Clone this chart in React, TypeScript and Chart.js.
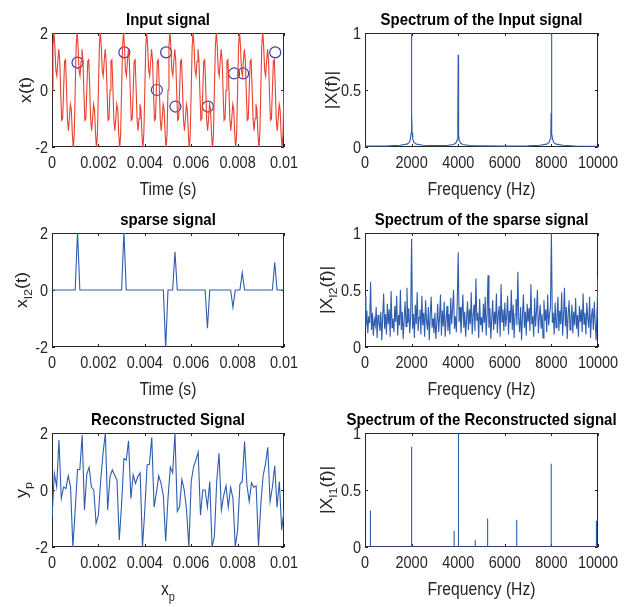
import React, { useEffect, useRef } from 'react';
import { Chart, registerables } from 'chart.js';
Chart.register(...registerables);

// ---------- tick values / labels ----------
const timeTicks = [0, 0.002, 0.004, 0.006, 0.008, 0.01];
const timeTickLabels = ['0', '0.002', '0.004', '0.006', '0.008', '0.01'];
const ampTicks = [-2, 0, 2];
const ampTickLabels = ['-2', '0', '2'];
const freqTicks = [0, 2000, 4000, 6000, 8000, 10000];
const freqTickLabels = ['0', '2000', '4000', '6000', '8000', '10000'];
const magTicks = [0, 0.5, 1];
const magTickLabels = ['0', '0.5', '1'];

// ---------- input signal (0..0.01 s, 241 samples) ----------
const inputDuration = 0.01;
const inputSignal = [
  0, 1.53, 2.06, 1.51, 0.69, 0.5, 1.0, 1.43, 1.04, -0.09, -1.06, -1.01, 0, 1.01, 1.06, 0.09, -1.04, -1.43, -1.0, -0.5, -0.69, -1.51, -2.06, -1.53,
  0, 1.53, 2.06, 1.51, 0.69, 0.5, 1.0, 1.43, 1.04, -0.09, -1.06, -1.01, 0, 1.01, 1.06, 0.09, -1.04, -1.43, -1.0, -0.5, -0.69, -1.51, -2.06, -1.53,
  0, 1.53, 2.06, 1.51, 0.69, 0.5, 1.0, 1.43, 1.04, -0.09, -1.06, -1.01, 0, 1.01, 1.06, 0.09, -1.04, -1.43, -1.0, -0.5, -0.69, -1.51, -2.06, -1.53,
  0, 1.53, 2.06, 1.51, 0.69, 0.5, 1.0, 1.43, 1.04, -0.09, -1.06, -1.01, 0, 1.01, 1.06, 0.09, -1.04, -1.43, -1.0, -0.5, -0.69, -1.51, -2.06, -1.53,
  0, 1.53, 2.06, 1.51, 0.69, 0.5, 1.0, 1.43, 1.04, -0.09, -1.06, -1.01, 0, 1.01, 1.06, 0.09, -1.04, -1.43, -1.0, -0.5, -0.69, -1.51, -2.06, -1.53,
  0, 1.53, 2.06, 1.51, 0.69, 0.5, 1.0, 1.43, 1.04, -0.09, -1.06, -1.01, 0, 1.01, 1.06, 0.09, -1.04, -1.43, -1.0, -0.5, -0.69, -1.51, -2.06, -1.53,
  0, 1.53, 2.06, 1.51, 0.69, 0.5, 1.0, 1.43, 1.04, -0.09, -1.06, -1.01, 0, 1.01, 1.06, 0.09, -1.04, -1.43, -1.0, -0.5, -0.69, -1.51, -2.06, -1.53,
  0, 1.53, 2.06, 1.51, 0.69, 0.5, 1.0, 1.43, 1.04, -0.09, -1.06, -1.01, 0, 1.01, 1.06, 0.09, -1.04, -1.43, -1.0, -0.5, -0.69, -1.51, -2.06, -1.53,
  0, 1.53, 2.06, 1.51, 0.69, 0.5, 1.0, 1.43, 1.04, -0.09, -1.06, -1.01, 0, 1.01, 1.06, 0.09, -1.04, -1.43, -1.0, -0.5, -0.69, -1.51, -2.06, -1.53,
  0, 1.53, 2.06, 1.51, 0.69, 0.5, 1.0, 1.43, 1.04, -0.09, -1.06, -1.01, 0, 1.01, 1.06, 0.09, -1.04, -1.43, -1.0, -0.5, -0.69, -1.51, -2.06, -1.53,
  0,
];

// random sample points (circles)
const sampleTimes = [0.0011, 0.00312, 0.00452, 0.00492, 0.00532, 0.00672, 0.00785, 0.00824, 0.00962];
const sampleValues = [0.96, 1.32, 0, 1.32, -0.58, -0.58, 0.58, 0.58, 1.32];

// ---------- sparse signal (dt = 0.0001 s, 101 samples) ----------
const sparseStep = 0.0001;
const sparseSignal = [
  0, 0, 0, 0, 0, 0, 0, 0, 0, 0,
  0, 2.05, 0, 0, 0, 0, 0, 0, 0, 0,
  0, 0, 0, 0, 0, 0, 0, 0, 0, 0,
  0, 2.05, 0, 0, 0, 0, 0, 0, 0, 0,
  0, 0, 0, 0, 0, 0, 0, 0, 0, -2.05,
  0, 0, 0, 1.34, 0, 0, 0, 0, 0, 0,
  0, 0, 0, 0, 0, 0, 0, -1.34, 0, 0,
  0, 0, 0, 0, 0, 0, 0, 0, -0.61, 0,
  0, 0, 0.61, 0, 0, 0, 0, 0, 0, 0,
  0, 0, 0, 0, 0, 0, 0.97, 0, 0, 0,
  0,
];

// ---------- reconstructed signal (dt = 0.0001 s, 101 samples) ----------
const reconstructedSignal = [
  -1.0, 0.58, 0.12, 1.75, -0.3, 0.1, 0.05, 0.5, 0.1, -2.0,
  -0.7, 0.72, 0.72, 1.93, -0.7, 0.55, 0.8, 0.1, 0.0, -1.17,
  -0.88, 0.35, 1.29, 2.0, -0.7, 0.47, 0.7, 0.53, 0.35, -1.75,
  -0.5, 1.1, 1.05, 1.73, -0.3, 0.53, 0.23, 0.47, 0.6, -2.0,
  -0.7, 0.88, 0.9, 1.85, -0.6, -0.1, 0.5, 0.23, -0.2, -1.8,
  -0.3, 0.8, 0.6, 2.0, -0.75, -0.58, 0.37, 0.0, -0.7, -2.0,
  0.3, 0.8, 1.05, 1.33, -0.88, 0.0, 0.0, -0.6, 0.3, -2.0,
  -1.63, 0.3, 1.29, -0.7, -0.2, 0.15, -0.6, 0.1, -0.3, -2.0,
  -1.4, 0.2, 0.3, 1.7, 0.2, -0.4, 0.25, 0.1, 0.15, -2.0,
  -0.5, 0.5, 0.9, 1.5, -0.4, 0.1, 0.85, -0.6, 0.3, -1.4,
  -0.7,
];

// ---------- input spectrum ----------
const inputSpecFreq = [0, 500, 1000, 1500, 1800, 1900, 1950, 1975, 1990, 2000, 2010, 2025, 2050, 2100, 2200, 2500, 3000, 3500, 3800, 3900, 3950, 3975, 3990, 4000, 4010, 4025, 4050, 4100, 4200, 4500, 5000, 6000, 7000, 7500, 7800, 7900, 7950, 7975, 7990, 8000, 8010, 8025, 8050, 8100, 8200, 8500, 9000, 10000];
const inputSpecMag = [0.008, 0.009, 0.01, 0.015, 0.025, 0.04, 0.07, 0.12, 0.3, 1.0, 0.3, 0.12, 0.07, 0.04, 0.025, 0.015, 0.012, 0.013, 0.022, 0.035, 0.06, 0.1, 0.25, 0.81, 0.25, 0.1, 0.06, 0.035, 0.022, 0.013, 0.01, 0.008, 0.01, 0.015, 0.025, 0.04, 0.07, 0.12, 0.3, 1.0, 0.3, 0.12, 0.07, 0.04, 0.025, 0.015, 0.009, 0.006];

// ---------- sparse spectrum (0..10000 Hz, step 40 Hz) ----------
const sparseSpecStep = 40;
const sparseSpecMag = [
  0.45, 0.18, 0.32, 0.12, 0.27, 0.21, 0.57, 0.15, 0.30, 0.10, 0.24, 0.19, 0.35, 0.08, 0.28, 0.22, 0.14, 0.31, 0.06, 0.26, 0.47, 0.16, 0.29, 0.11, 0.38,
  0.20, 0.33, 0.09, 0.49, 0.17, 0.25, 0.13, 0.36, 0.22, 0.45, 0.10, 0.28, 0.19, 0.50, 0.15, 0.31, 0.07, 0.24, 0.40, 0.18, 0.52, 0.21, 0.34, 0.12, 0.27,
  0.95, 0.16, 0.29, 0.08, 0.37, 0.20, 0.48, 0.14, 0.26, 0.33, 0.11, 0.45, 0.19, 0.30, 0.09, 0.41, 0.23, 0.15, 0.35, 0.06, 0.28, 0.44, 0.17, 0.25, 0.12,
  0.30, 0.07, 0.21, 0.38, 0.13, 0.26, 0.46, 0.10, 0.32, 0.18, 0.40, 0.09, 0.24, 0.36, 0.14, 0.29, 0.11, 0.43, 0.20, 0.34, 0.50, 0.16, 0.27, 0.13, 0.39,
  0.83, 0.22, 0.35, 0.12, 0.28, 0.46, 0.17, 0.31, 0.09, 0.25, 0.40, 0.15, 0.33, 0.20, 0.48, 0.11, 0.27, 0.37, 0.14, 0.60, 0.23, 0.30, 0.08, 0.42, 0.19,
  0.26, 0.13, 0.38, 0.21, 0.44, 0.10, 0.29, 0.63, 0.17, 0.34, 0.07, 0.25, 0.41, 0.15, 0.31, 0.20, 0.47, 0.12, 0.28, 0.36, 0.09, 0.55, 0.22, 0.33, 0.14,
  0.39, 0.18, 0.27, 0.45, 0.11, 0.32, 0.21, 0.50, 0.15, 0.37, 0.08, 0.29, 0.42, 0.19, 0.66, 0.24, 0.13, 0.35, 0.06, 0.28, 0.46, 0.17, 0.31, 0.10, 0.38,
  0.22, 0.34, 0.14, 0.55, 0.20, 0.27, 0.09, 0.43, 0.18, 0.31, 0.50, 0.12, 0.26, 0.37, 0.16, 0.29, 0.08, 0.41, 0.23, 0.33, 0.13, 0.46, 0.19, 0.28, 0.35,
  1.0, 0.21, 0.30, 0.11, 0.39, 0.17, 0.26, 0.44, 0.14, 0.32, 0.20, 0.48, 0.10, 0.27, 0.52, 0.18, 0.35, 0.07, 0.29, 0.41, 0.15, 0.24, 0.37, 0.12, 0.31,
  0.19, 0.43, 0.16, 0.28, 0.09, 0.36, 0.22, 0.33, 0.13, 0.47, 0.20, 0.30, 0.11, 0.39, 0.25, 0.17, 0.44, 0.08, 0.27, 0.34, 0.15, 0.40, 0.21, 0.06, 0.32, 0.61,
];

// ---------- reconstructed spectrum (spikes) ----------
const recSpikeFreq = [230, 2000, 3825, 4010, 4730, 5260, 6510, 7990, 9930];
const recSpikeMag = [0.32, 0.88, 0.14, 1.0, 0.06, 0.25, 0.24, 0.73, 0.23];

// ---------- styling ----------
const FONT = '"Liberation Sans", Arial, Helvetica, sans-serif';
const RED = '#e9402f';
const BLUE = '#2f5db0';
const CIRCLE = '#3c3ca6';
const AXIS = '#262626';

type Seg = { t: string; sub?: boolean };

function segWidth(ctx: CanvasRenderingContext2D, segs: Seg[], size: number, weight: string) {
  let w = 0;
  for (const s of segs) {
    const fs = s.sub ? size * 0.7 : size;
    ctx.font = `${weight} ${fs}px ${FONT}`;
    w += ctx.measureText(s.t).width;
  }
  return w;
}

function drawSegs(ctx: CanvasRenderingContext2D, segs: Seg[], size: number, weight: string, color: string) {
  let x = 0;
  ctx.fillStyle = color;
  ctx.textAlign = 'left';
  ctx.textBaseline = 'alphabetic';
  for (const s of segs) {
    const fs = s.sub ? size * 0.7 : size;
    ctx.font = `${weight} ${fs}px ${FONT}`;
    ctx.fillText(s.t, x, s.sub ? size * 0.32 : 0);
    x += ctx.measureText(s.t).width;
  }
}

// horizontal text, squeezed horizontally by sx
function hText(ctx: CanvasRenderingContext2D, segs: Seg[], x: number, y: number, size: number, weight: string, align: string, sx: number, color: string) {
  const w = segWidth(ctx, segs, size, weight) * sx;
  const x0 = align === 'center' ? x - w / 2 : align === 'right' ? x - w : x;
  ctx.save();
  ctx.translate(x0, y);
  ctx.scale(sx, 1);
  drawSegs(ctx, segs, size, weight, color);
  ctx.restore();
}

function vText(ctx: CanvasRenderingContext2D, segs: Seg[], x: number, y: number, size: number, weight: string, sx: number, color: string) {
  const w = segWidth(ctx, segs, size, weight);
  ctx.save();
  ctx.translate(x, y);
  ctx.rotate(-Math.PI / 2);
  ctx.scale(1, sx);
  ctx.translate(-w / 2, 0);
  drawSegs(ctx, segs, size, weight, color);
  ctx.restore();
}

type PanelSpec = {
  left: number; top: number; w: number; h: number;
  plotLeft: number;
  title: string;
  xLabel: Seg[]; yLabel: Seg[]; yLabelGap: number;
  xMin: number; xMax: number; yMin: number; yMax: number;
  xTicks: number[]; xTickLabels: string[];
  yTicks: number[]; yTickLabels: string[];
  datasets: any[];
};

function Panel({ spec }: { spec: PanelSpec }) {
  const ref = useRef<HTMLCanvasElement | null>(null);
  useEffect(() => {
    const frame = {
      id: 'matlabFrame',
      beforeDatasetsDraw(chart: any) {
        const { ctx, chartArea: a, scales } = chart;
        ctx.save();
        ctx.strokeStyle = AXIS;
        ctx.lineWidth = 1;
        ctx.strokeRect(a.left + 0.5, a.top + 0.5, a.right - a.left - 1, a.bottom - a.top - 1);
        ctx.beginPath();
        const tl = 3;
        for (const t of scales.x.ticks) {
          const px = Math.round(scales.x.getPixelForValue(t.value)) + 0.5;
          ctx.moveTo(px, a.bottom); ctx.lineTo(px, a.bottom - tl);
          ctx.moveTo(px, a.top); ctx.lineTo(px, a.top + tl);
        }
        for (const t of scales.y.ticks) {
          const py = Math.round(scales.y.getPixelForValue(t.value)) + 0.5;
          ctx.moveTo(a.left, py); ctx.lineTo(a.left + tl, py);
          ctx.moveTo(a.right, py); ctx.lineTo(a.right - tl, py);
        }
        ctx.stroke();
        ctx.restore();
      },
      afterDraw(chart: any) {
        const { ctx, chartArea: a, scales } = chart;
        const cx = (a.left + a.right) / 2;
        const cy = (a.top + a.bottom) / 2;
        // title
        hText(ctx, [{ t: spec.title }], cx, a.top - 8, 17, 'bold', 'center', 0.88, '#000');
        // tick labels
        scales.x.ticks.forEach((t: any, i: number) => {
          const px = scales.x.getPixelForValue(t.value);
          hText(ctx, [{ t: spec.xTickLabels[i] }], px, a.bottom + 21, 17, 'normal', 'center', 0.85, AXIS);
        });
        scales.y.ticks.forEach((t: any, i: number) => {
          const py = scales.y.getPixelForValue(t.value);
          hText(ctx, [{ t: spec.yTickLabels[i] }], a.left - 4, py + 6, 17, 'normal', 'right', 0.85, AXIS);
        });
        // axis labels
        hText(ctx, spec.xLabel, cx, a.bottom + 48, 18, 'normal', 'center', 0.87, AXIS);
        vText(ctx, spec.yLabel, a.left - spec.yLabelGap, cy, 18, 'normal', 0.87, AXIS);
      },
    };
    const chart = new Chart(ref.current as HTMLCanvasElement, {
      type: 'line',
      data: { datasets: spec.datasets },
      options: {
        animation: false,
        responsive: false,
        devicePixelRatio: 1,
        events: [],
        layout: { padding: { top: 33, right: 30, left: 0, bottom: 0 } },
        plugins: { legend: { display: false }, tooltip: { enabled: false }, title: { display: false } },
        elements: { point: { radius: 0 }, line: { tension: 0 } },
        scales: {
          x: {
            type: 'linear', min: spec.xMin, max: spec.xMax,
            ticks: { display: false }, grid: { display: false }, border: { display: false },
            afterBuildTicks: (s: any) => { s.ticks = spec.xTicks.map((v) => ({ value: v })); },
            afterFit: (s: any) => { s.height = spec.h - 147; },
          },
          y: {
            type: 'linear', min: spec.yMin, max: spec.yMax,
            ticks: { display: false }, grid: { display: false }, border: { display: false },
            afterBuildTicks: (s: any) => { s.ticks = spec.yTicks.map((v) => ({ value: v })); },
            afterFit: (s: any) => { s.width = spec.plotLeft; },
          },
        },
      } as any,
      plugins: [frame],
    });
    return () => chart.destroy();
  }, []);
  return (
    <canvas
      ref={ref}
      width={spec.w}
      height={spec.h}
      style={{ position: 'absolute', left: spec.left, top: spec.top, width: spec.w, height: spec.h }}
    />
  );
}

function lineSet(points: { x: number; y: number }[], color: string) {
  return { data: points, borderColor: color, borderWidth: 1.1, pointRadius: 0, fill: false, tension: 0 };
}

export default function App() {
  const inputPts = inputSignal.map((v, i) => ({ x: (i * inputDuration) / (inputSignal.length - 1), y: v }));
  const samplePts = sampleTimes.map((t, i) => ({ x: t, y: sampleValues[i] }));
  const sparsePts = sparseSignal.map((v, i) => ({ x: i * sparseStep, y: v }));
  const recPts = reconstructedSignal.map((v, i) => ({ x: i * sparseStep, y: v }));
  const inSpecPts = inputSpecFreq.map((f, i) => ({ x: f, y: inputSpecMag[i] }));
  const spSpecPts = sparseSpecMag.map((v, i) => ({ x: i * sparseSpecStep, y: v }));
  const recSpecPts: { x: number; y: number }[] = [{ x: 0, y: 0 }];
  recSpikeFreq.forEach((f, i) => {
    recSpecPts.push({ x: f - 4, y: 0 }, { x: f, y: recSpikeMag[i] }, { x: f + 4, y: 0 });
  });
  recSpecPts.push({ x: 10000, y: 0 });

  const timeAxes = { xMin: 0, xMax: 0.01, yMin: -2, yMax: 2, xTicks: timeTicks, xTickLabels: timeTickLabels, yTicks: ampTicks, yTickLabels: ampTickLabels };
  const freqAxes = { xMin: 0, xMax: 10000, yMin: 0, yMax: 1, xTicks: freqTicks, xTickLabels: freqTickLabels, yTicks: magTicks, yTickLabels: magTickLabels };

  const panels: PanelSpec[] = [
    {
      left: 0, top: 0, w: 314, h: 200, plotLeft: 52, title: 'Input signal',
      xLabel: [{ t: 'Time (s)' }], yLabel: [{ t: 'x(t)' }], yLabelGap: 21, ...timeAxes,
      datasets: [
        lineSet(inputPts, RED),
        { data: samplePts, showLine: false, pointRadius: 5.5, pointStyle: 'circle', borderColor: CIRCLE, borderWidth: 1.2, backgroundColor: 'rgba(0,0,0,0)' },
      ],
    },
    {
      left: 314, top: 0, w: 314, h: 200, plotLeft: 51, title: 'Spectrum of the Input signal',
      xLabel: [{ t: 'Frequency (Hz)' }], yLabel: [{ t: '|X(f)|' }], yLabelGap: 28, ...freqAxes,
      datasets: [lineSet(inSpecPts, BLUE)],
    },
    {
      left: 0, top: 200, w: 314, h: 200, plotLeft: 52, title: 'sparse signal',
      xLabel: [{ t: 'Time (s)' }], yLabel: [{ t: 'x' }, { t: 'l2', sub: true }, { t: '(t)' }], yLabelGap: 25, ...timeAxes,
      datasets: [lineSet(sparsePts, BLUE)],
    },
    {
      left: 314, top: 200, w: 314, h: 200, plotLeft: 51, title: 'Spectrum of the sparse signal',
      xLabel: [{ t: 'Frequency (Hz)' }], yLabel: [{ t: '|X' }, { t: 'l2', sub: true }, { t: '(f)|' }], yLabelGap: 33, ...freqAxes,
      datasets: [lineSet(spSpecPts, BLUE)],
    },
    {
      left: 0, top: 400, w: 314, h: 207, plotLeft: 52, title: 'Reconstructed Signal',
      xLabel: [{ t: 'x' }, { t: 'p', sub: true }], yLabel: [{ t: 'y' }, { t: 'p', sub: true }], yLabelGap: 25, ...timeAxes,
      datasets: [lineSet(recPts, BLUE)],
    },
    {
      left: 314, top: 400, w: 314, h: 207, plotLeft: 51, title: 'Spectrum of the Reconstructed signal',
      xLabel: [{ t: 'Frequency (Hz)' }], yLabel: [{ t: '|X' }, { t: 'l1', sub: true }, { t: '(f)|' }], yLabelGap: 33, ...freqAxes,
      datasets: [lineSet(recSpecPts, BLUE)],
    },
  ];

  return (
    <div style={{ position: 'absolute', left: 0, top: 0, width: 628, height: 607, background: '#fff' }}>
      {panels.map((p, i) => (
        <Panel key={i} spec={p} />
      ))}
    </div>
  );
}
